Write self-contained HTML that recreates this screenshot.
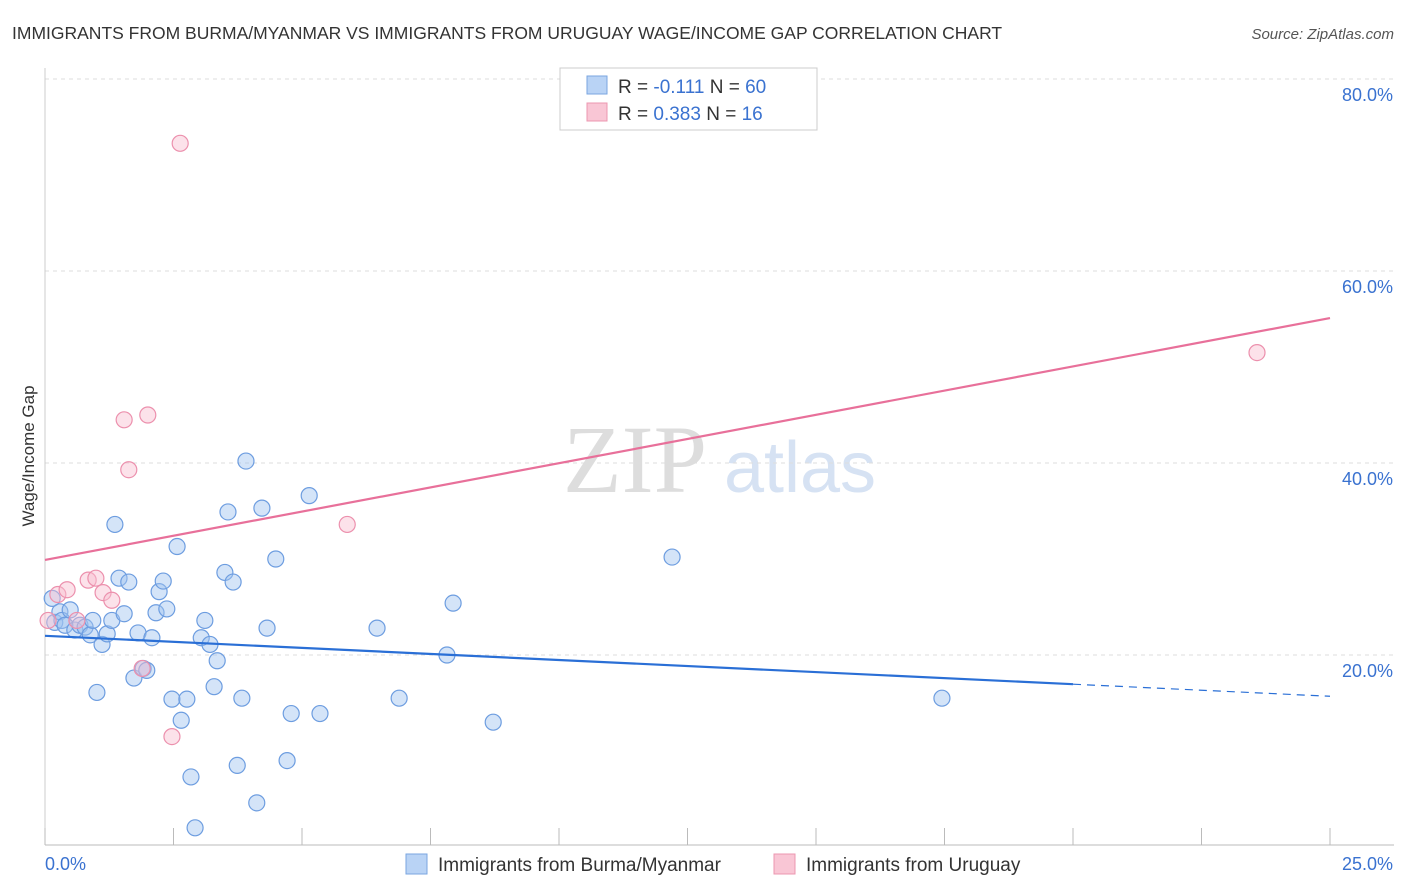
<!DOCTYPE html>
<html><head><meta charset="utf-8"><style>
body{margin:0;background:#fff;font-family:"Liberation Sans",sans-serif}
svg{display:block}
</style></head><body>
<svg id="c" width="1406" height="892" xmlns="http://www.w3.org/2000/svg">
<text x="12" y="39" font-size="17.5" fill="#333">IMMIGRANTS FROM BURMA/MYANMAR VS IMMIGRANTS FROM URUGUAY WAGE/INCOME GAP CORRELATION CHART</text>
<text x="1394" y="39" font-size="15" fill="#555" font-style="italic" text-anchor="end">Source: ZipAtlas.com</text>
<text x="635" y="492" font-size="96" fill="#ddd" font-family="Liberation Serif" text-anchor="middle">ZIP</text>
<text x="800" y="492" font-size="72" fill="#d6e2f3" text-anchor="middle">atlas</text>
<text transform="translate(34,456) rotate(-90)" font-size="17" fill="#333" text-anchor="middle">Wage/Income Gap</text>
<g id="grid"></g><g id="marks"></g>
<g>
<rect x="560" y="68" width="257" height="62" fill="#fff" stroke="#ccc"/>
<rect x="587" y="76" width="20" height="18" fill="#b9d3f5" stroke="#7aa6e0"/>
<rect x="587" y="103" width="20" height="18" fill="#f9c6d5" stroke="#ec97b0"/>
<text x="618" y="93" font-size="19" fill="#333">R = <tspan fill="#3a72d0">-0.111</tspan>   N = <tspan fill="#3a72d0">60</tspan></text>
<text x="618" y="120" font-size="19" fill="#333">R = <tspan fill="#3a72d0">0.383</tspan>   N = <tspan fill="#3a72d0"> 16</tspan></text>
</g>
<g>
<rect x="406" y="854" width="21" height="20" fill="#b9d3f5" stroke="#7aa6e0"/>
<text x="438" y="871" font-size="19" fill="#333">Immigrants from Burma/Myanmar</text>
<rect x="774" y="854" width="21" height="20" fill="#f9c6d5" stroke="#ec97b0"/>
<text x="806" y="871" font-size="19" fill="#333">Immigrants from Uruguay</text>
</g>
</svg>
<script>
const yTicks=[20,40,60,80];
const xTickLabels=["0.0%","25.0%"];
const blueX=[0.14,0.19,0.29,0.33,0.39,0.49,0.58,0.68,0.78,0.88,0.93,1.01,1.11,1.21,1.30,1.36,1.44,1.54,1.63,1.73,1.81,1.91,1.98,2.08,2.16,2.22,2.30,2.37,2.47,2.57,2.65,2.76,2.84,2.92,3.04,3.11,3.21,3.29,3.35,3.50,3.56,3.66,3.74,3.83,3.91,4.12,4.22,4.32,4.49,4.71,4.79,5.14,5.35,6.46,6.89,7.82,7.94,8.72,12.20,17.45];
const blueY=[25.9,23.4,24.5,23.6,23.1,24.7,22.6,23.1,22.9,22.1,23.6,16.1,21.1,22.2,23.6,33.6,28.0,24.3,27.6,17.6,22.3,18.6,18.4,21.8,24.4,26.6,27.7,24.8,15.4,31.3,13.2,15.4,7.3,2.0,21.8,23.6,21.1,16.7,19.4,28.6,34.9,27.6,8.5,15.5,40.2,4.6,35.3,22.8,30.0,9.0,13.9,36.6,13.9,22.8,15.5,20.0,25.4,13.0,30.2,15.5];
const pinkX=[0.06,0.25,0.43,0.62,0.84,0.99,1.13,1.30,1.54,1.63,1.89,2.00,2.47,2.63,5.88,23.58];
const pinkY=[23.6,26.3,26.8,23.6,27.8,28.0,26.5,25.7,44.5,39.3,18.6,45.0,11.5,73.3,33.6,51.5];
const blueTrend=[22.0,15.7];
const pinkTrend=[29.9,55.1];
const xMax=25, blueSolidEnd=20;
const X=v=>45+v*(1330-45)/xMax, Y=v=>847-v*9.6;
const NS="http://www.w3.org/2000/svg";
function mk(tag,attrs,parent){const e=document.createElementNS(NS,tag);for(const k in attrs)e.setAttribute(k,attrs[k]);parent.appendChild(e);return e;}
const g=document.getElementById('grid'),m=document.getElementById('marks');
yTicks.forEach(t=>{
 const l=mk('line',{x1:45,x2:1394,y1:Y(t),y2:Y(t),stroke:'#ddd','stroke-dasharray':'4,4'},g);
 
 
 const tx=mk('text',{x:1393,y:Y(t)+22,'font-size':18,fill:'#3a72d0','text-anchor':'end'},g);
 tx.textContent=t.toFixed(1)+'%';
 
 
});
const ax=mk('line',{x1:45,x2:1394,y1:845,y2:845,stroke:'#bbb'},g);


const ay=mk('line',{x1:45,x2:45,y1:68,y2:845,stroke:'#ccc'},g);


for(let i=0;i<=10;i++){const v=i*2.5;const t=mk('line',{x1:X(v),x2:X(v),y1:828,y2:845,stroke:'#bbb'},g);
 
 }
[[0,'start',45],[1,'end',1393]].forEach(([i,a,x])=>{const t=mk('text',{x:x,y:870,'font-size':18,fill:'#3a72d0','text-anchor':a},g);t.textContent=xTickLabels[i];
 
 });
blueX.forEach((x,i)=>{const c=mk('circle',{cx:X(x),cy:Y(blueY[i]),r:8,fill:'rgba(160,195,240,0.45)',stroke:'#6d9de0','stroke-width':1.2},m);
 
 });
pinkX.forEach((x,i)=>{const c=mk('circle',{cx:X(x),cy:Y(pinkY[i]),r:8,fill:'rgba(248,190,208,0.45)',stroke:'#ec90ad','stroke-width':1.2},m);
 
 });
const bAt=v=>blueTrend[0]+(blueTrend[1]-blueTrend[0])*v/xMax;
const bl=mk('line',{x1:X(0),y1:Y(bAt(0)),x2:X(blueSolidEnd),y2:Y(bAt(blueSolidEnd)),stroke:'#2a6fd6','stroke-width':2.2},m);


const bd=mk('line',{x1:X(blueSolidEnd),y1:Y(bAt(blueSolidEnd)),x2:X(xMax),y2:Y(bAt(xMax)),stroke:'#2a6fd6','stroke-width':1.2,'stroke-dasharray':'8,6'},m);


const pl=mk('line',{x1:X(0),y1:Y(pinkTrend[0]),x2:X(xMax),y2:Y(pinkTrend[1]),stroke:'#e8709a','stroke-width':2.2},m);


</script>
</body></html>
